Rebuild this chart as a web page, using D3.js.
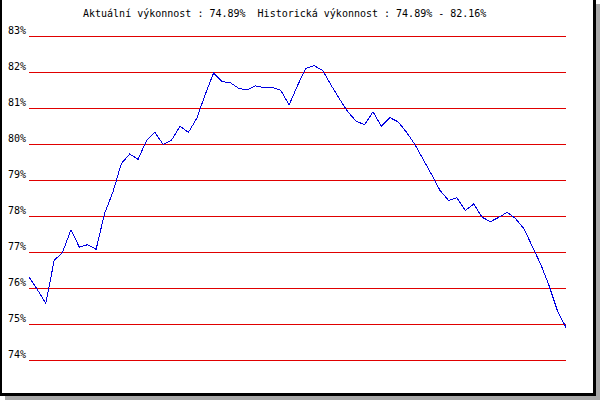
<!DOCTYPE html>
<html>
<head>
<meta charset="utf-8">
<script src="https://cdn.jsdelivr.net/npm/d3@7"></script>
<style>
  html, body { margin: 0; padding: 0; background: #fff; }
  svg { display: block; }
  text { font-family: "DejaVu Sans Mono", "Liberation Mono", monospace; font-size: 10px; fill: #000; white-space: pre; }
</style>
</head>
<body>
<svg id="chart" width="600" height="400"></svg>
<script>
const titleText = "Aktuální výkonnost : 74.89%  Historická výkonnost : 74.89% - 82.16%";
const yTicks = [74, 75, 76, 77, 78, 79, 80, 81, 82, 83];
const yTickLabels = ["74%", "75%", "76%", "77%", "78%", "79%", "80%", "81%", "82%", "83%"];
const values = [
  76.29, 75.94, 75.56, 76.75, 76.98, 77.60, 77.12, 77.19, 77.06, 78.05,
  78.65, 79.44, 79.71, 79.56, 80.08, 80.31, 79.97, 80.10, 80.48, 80.31,
  80.70, 81.36, 81.96, 81.72, 81.69, 81.53, 81.49, 81.60, 81.55, 81.56,
  81.48, 81.07, 81.61, 82.09, 82.16, 82.03, 81.62, 81.24, 80.88, 80.62,
  80.52, 80.88, 80.48, 80.72, 80.60, 80.31, 79.97, 79.55, 79.13, 78.69,
  78.42, 78.49, 78.14, 78.32, 77.95, 77.83, 77.95, 78.09, 77.91, 77.63,
  77.13, 76.64, 76.04, 75.34, 74.89
];

const svg = d3.select("#chart");

// frame: shadow then black border
svg.append("rect").attr("x", 596).attr("y", 4).attr("width", 4).attr("height", 396).attr("fill", "#a8a8a8");
svg.append("rect").attr("x", 5).attr("y", 396).attr("width", 595).attr("height", 4).attr("fill", "#a8a8a8");
svg.append("rect").attr("x", 0).attr("y", 0).attr("width", 2).attr("height", 396).attr("fill", "#000");
svg.append("rect").attr("x", 593).attr("y", 0).attr("width", 3).attr("height", 396).attr("fill", "#000");
svg.append("rect").attr("x", 0).attr("y", 393).attr("width", 596).attr("height", 3).attr("fill", "#000");

const x = d3.scaleLinear().domain([0, values.length - 1]).range([29, 566]);
const y = d3.scaleLinear().domain([74, 83]).range([359.5, 35.5]);

// y axis with gridlines
const yAxis = d3.axisLeft(y)
  .tickValues(yTicks)
  .tickSize(-(566 - 29))
  .tickPadding(3)
  .tickFormat((d, i) => yTickLabels[i]);

const gAxis = svg.append("g").attr("transform", "translate(29,0)").call(yAxis);
gAxis.select(".domain").remove();
gAxis.selectAll(".tick line").attr("stroke", "#e00000").attr("stroke-width", 1).attr("shape-rendering", "crispEdges");
gAxis.selectAll(".tick text")
  .attr("x", -3)
  .attr("dy", "-2.5px")
  .style("font-family", "'DejaVu Sans Mono', monospace")
  .style("font-size", "10px")
  .attr("fill", "#000");

// line
const line = d3.line().x((d, i) => x(i)).y(d => y(d));
svg.append("path")
  .datum(values)
  .attr("d", line)
  .attr("fill", "none")
  .attr("stroke", "#0000e0")
  .attr("stroke-width", 1)
  .attr("shape-rendering", "crispEdges");

// title
svg.append("text")
  .attr("x", 83)
  .attr("y", 17)
  .attr("xml:space", "preserve")
  .text(titleText);
</script>
</body>
</html>
